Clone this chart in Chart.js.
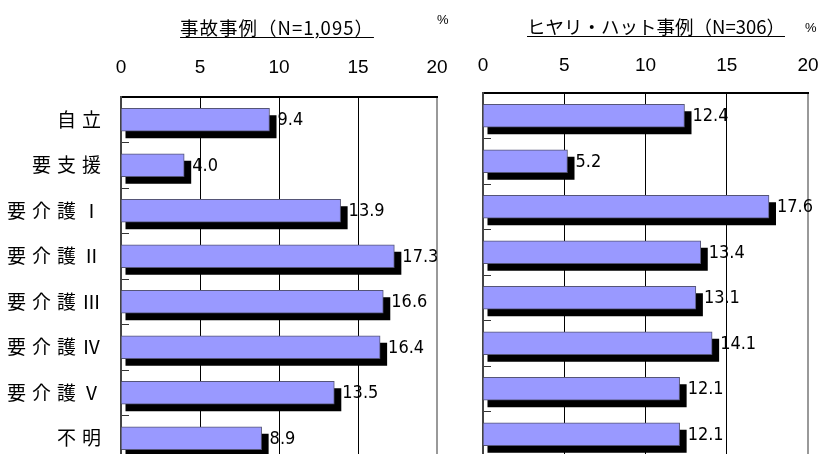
<!DOCTYPE html>
<html lang="ja">
<head>
<meta charset="utf-8">
<script src="https://cdn.jsdelivr.net/npm/chart.js@4"></script>
<style>
  html, body { margin: 0; padding: 0; background: #fff; overflow: hidden; }
  body { width: 820px; height: 454px; position: relative; font-family: 'Noto Sans CJK JP', sans-serif; }
  .box { position: absolute; top: 0; }
  #leftBox { left: 0; width: 460px; height: 461px; }
  #rightBox { left: 460px; width: 360px; height: 457px; }
  .title {
    position: absolute; font-size: 18.5px; line-height: 1; white-space: nowrap;
    text-decoration: underline; text-underline-offset: 2px; transform: translateX(-50%);
  }
  .unit { position: absolute; font-family: 'Liberation Sans', sans-serif; font-size: 13px; line-height: 1; }
</style>
</head>
<body>
<div class="box" id="leftBox"><canvas id="accidentChart"></canvas></div>
<div class="box" id="rightBox"><canvas id="nearMissChart"></canvas></div>
<div class="title" style="left:277px; top:18px; letter-spacing:1px;">事故事例（N=1,095）</div>
<div class="unit" style="left:437px; top:13px;">%</div>
<div class="title" style="left:656px; top:17px;">ヒヤリ・ハット事例（N=306）</div>
<div class="unit" style="left:805px; top:21px;">%</div>
<script>
const CATEGORIES = ['自立', '要支援', '要介護Ⅰ', '要介護Ⅱ', '要介護Ⅲ', '要介護Ⅳ', '要介護Ⅴ', '不明'];
const ACCIDENT = [9.4, 4.0, 13.9, 17.3, 16.6, 16.4, 13.5, 8.9];
const NEAR_MISS = [12.4, 5.2, 17.6, 13.4, 13.1, 14.1, 12.1, 12.1];
const X_MIN = 0;
const X_MAX = 20;
const X_STEP = 5;

// black offset shadow under each bar + value labels to the right
const barDecor = {
  id: 'barDecor',
  beforeDraw(chart) {
    chart.ctx.letterSpacing = '0px';
  },
  beforeDatasetsDraw(chart) {
    const ctx = chart.ctx;
    ctx.save();
    ctx.fillStyle = '#000';
    chart.getDatasetMeta(0).data.forEach((bar) => {
      const { x, y, base, height } = bar.getProps(['x', 'y', 'base', 'height'], true);
      ctx.fillRect(base + 4, y - height / 2 + 7, x - base + 3, height);
    });
    ctx.restore();
  },
  afterDatasetsDraw(chart) {
    const ctx = chart.ctx;
    const values = chart.data.datasets[0].data;
    ctx.save();
    ctx.font = '18px "Liberation Sans Narrow", "DejaVu Sans Condensed", sans-serif';
    ctx.fillStyle = '#000';
    ctx.textAlign = 'left';
    ctx.textBaseline = 'middle';
    chart.getDatasetMeta(0).data.forEach((bar, i) => {
      ctx.fillText(values[i].toFixed(1), bar.x + 8, bar.y + 1);
    });
    ctx.restore();
    // category labels (tick layer z=1) are drawn next, spaced out
    ctx.letterSpacing = '6px';
  },
  afterDraw(chart) {
    chart.ctx.letterSpacing = '0px';
  },
};

// keep the plot area where the reference has it: no auto padding from labels
const noPad = (s) => {
  s.paddingLeft = 0;
  s.paddingRight = 0;
  s.paddingTop = 0;
  s.paddingBottom = 0;
};

function makeChart(id, values, cfg) {
  return new Chart(document.getElementById(id), {
    type: 'bar',
    data: {
      labels: CATEGORIES,
      datasets: [{
        data: values,
        backgroundColor: '#9999FF',
        borderColor: '#555577',
        borderWidth: 1,
        barThickness: 23,
      }],
    },
    options: {
      indexAxis: 'y',
      responsive: true,
      maintainAspectRatio: false,
      animation: false,
      events: [],
      layout: { padding: { left: 0, right: cfg.padRight, top: 0, bottom: 0 } },
      plugins: { legend: { display: false }, tooltip: { enabled: false } },
      scales: {
        x: {
          position: 'top',
          min: X_MIN,
          max: X_MAX,
          afterFit: (s) => { s.height = cfg.top; noPad(s); },
          ticks: {
            stepSize: X_STEP,
            color: '#000',
            padding: cfg.tickPad,
            font: { family: '"Liberation Sans", Arial, sans-serif', size: 19 },
          },
          grid: {
            drawTicks: false,
            color: (c) => (c.tick && c.tick.value === X_MAX ? '#999' : '#000'),
            lineWidth: (c) => (c.tick && c.tick.value === X_MAX ? 2 : 1),
          },
          border: { color: '#000', width: 2 },
        },
        y: {
          afterFit: (s) => { s.width = cfg.left; noPad(s); },
          ticks: {
            display: cfg.showLabels,
            z: 1,
            color: '#000',
            padding: 22,
            font: { family: '"Noto Sans CJK JP", sans-serif', size: 19 },
          },
          grid: {
            offset: true,
            drawOnChartArea: false,
            drawTicks: true,
            tickLength: -8,
            color: '#333',
          },
          border: { color: '#444', width: 2 },
        },
      },
    },
    plugins: [barDecor],
  });
}

makeChart('accidentChart', ACCIDENT, { left: 121, top: 97, padRight: 23, tickPad: 18, showLabels: true });
makeChart('nearMissChart', NEAR_MISS, { left: 23, top: 93, padRight: 12, tickPad: 16, showLabels: false });
</script>
</body>
</html>
